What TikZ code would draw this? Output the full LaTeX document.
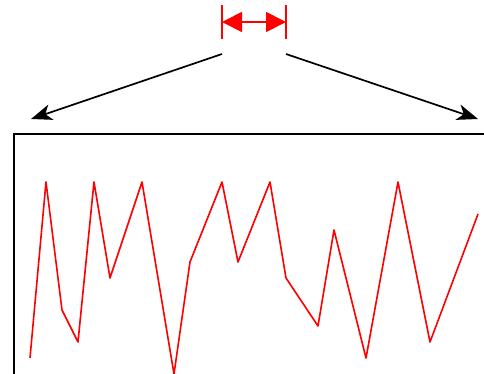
\documentclass[tikz,border=0pt]{standalone}
\usetikzlibrary{arrows.meta}
\begin{document}
\begin{tikzpicture}[x=1pt,y=-1pt,
  frame/.style={draw=black,line width=2pt},
  signal/.style={draw=red,line width=1.6pt,line join=round},
  zoomarrow/.style={draw=black,line width=1.7pt,-{Stealth[length=21pt,width=16pt,inset=6pt]}},
  span/.style={draw=red,line width=1.8pt,{Triangle[length=20pt,width=20pt]}-{Triangle[length=20pt,width=20pt]}},
  tick/.style={draw=red,line width=2pt}]
\useasboundingbox (0,0) rectangle (484,373);
\begin{scope}
\clip (0,0) rectangle (484,373);
% frame
\coordinate (fbl) at (14,380);
\coordinate (ftl) at (14,134);
\coordinate (ftr) at (490,134);
\draw[frame] (fbl) -- (ftl) -- (ftr);
% signal
\draw[signal] (30,358) -- (46,182) -- (62,310) -- (78,342) -- (94,182) -- (110,278)
  -- (142,182) -- (174,374) -- (190,262) -- (222,182) -- (238,262) -- (270,182)
  -- (286,278) -- (318,326) -- (334,230) -- (366,358) -- (398,182) -- (430,342) -- (478,214);
\end{scope}
% span marker
\coordinate (lt) at (222,5);
\coordinate (lb) at (222,39);
\coordinate (rt) at (286,5);
\coordinate (rb) at (286,39);
\coordinate (la) at (222,22);
\coordinate (ra) at (286,22);
\draw[tick] (lt) -- (lb);
\draw[tick] (rt) -- (rb);
\draw[span] (la) -- (ra);
% zoom arrows
\coordinate (s1) at (222,54);
\coordinate (e1) at (31,119);
\coordinate (s2) at (286,54);
\coordinate (e2) at (478,119);
\draw[zoomarrow] (s1) -- (e1);
\draw[zoomarrow] (s2) -- (e2);
\end{tikzpicture}
\end{document}
